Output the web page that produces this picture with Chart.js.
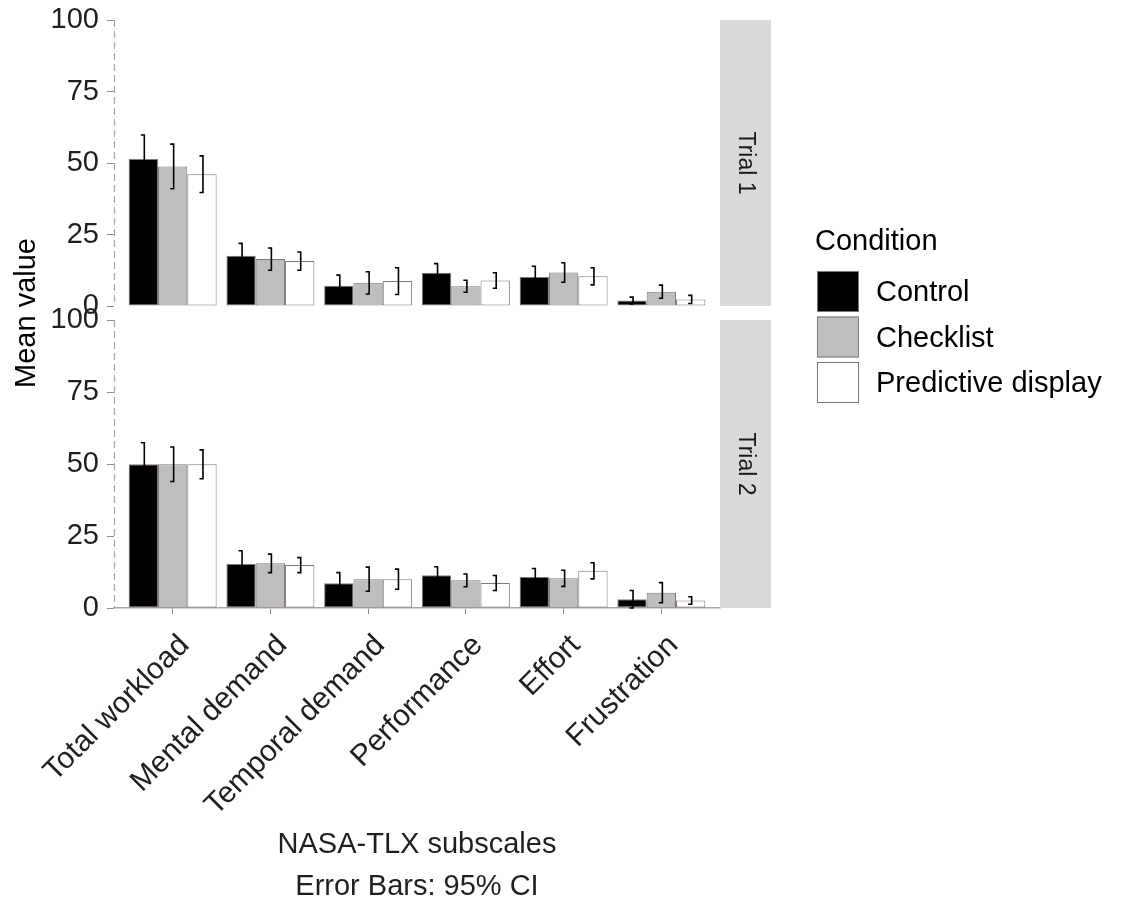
<!DOCTYPE html>
<html>
<head>
<meta charset="utf-8">
<script src="https://cdn.jsdelivr.net/npm/chart.js@4.4.1/dist/chart.umd.min.js"></script>
<style>
  body { margin: 0; background: #fff; }
  #wrap { position: relative; width: 1125px; height: 905px; }
  #wrap canvas { position: absolute; left: 0; top: 0; }
</style>
</head>
<body>
<div id="wrap">
  <canvas id="trial1" width="1125" height="905"></canvas>
  <canvas id="trial2" width="1125" height="905"></canvas>
</div>
<script>
const subscales = ['Total workload', 'Mental demand', 'Temporal demand', 'Performance', 'Effort', 'Frustration'];
const conditions = ['Control', 'Checklist', 'Predictive display'];
const trials = ['Trial 1', 'Trial 2'];
const yTicks = [0, 25, 50, 75, 100];

// Trial 1 means and 95% CI half widths
const t1Control = [51.4, 17.6, 7.1, 11.6, 10.1, 1.9];
const t1ControlCI = [8.4, 4.3, 3.7, 3.2, 3.8, 1.2];
const t1Checklist = [48.8, 16.4, 8.1, 6.9, 11.7, 5.0];
const t1ChecklistCI = [7.8, 3.9, 3.9, 2.1, 3.4, 2.3];
const t1Predictive = [46.1, 15.7, 8.7, 8.9, 10.4, 2.3];
const t1PredictiveCI = [6.4, 3.2, 4.7, 2.7, 3.0, 1.4];

// Trial 2
const t2Control = [49.9, 15.3, 8.6, 11.4, 10.8, 3.0];
const t2ControlCI = [7.5, 4.6, 3.7, 2.9, 2.9, 3.1];
const t2Checklist = [49.9, 15.5, 10.0, 9.6, 10.3, 5.3];
const t2ChecklistCI = [6.0, 3.2, 4.2, 2.2, 2.8, 3.5];
const t2Predictive = [49.9, 14.9, 10.0, 8.7, 12.9, 2.6];
const t2PredictiveCI = [5.0, 2.6, 3.5, 2.6, 2.8, 1.3];

const fills = ['#000000', '#BEBEBE', '#FFFFFF'];
const edge = '#847384';
const FONT = '"Liberation Sans", Arial, sans-serif';

function makeSets(vals, cis) {
    return vals.map(function (v, k) {
        return {
            label: conditions[k],
            data: v.map(function (y, i) { return { x: i, y: y }; }),
            ci: cis[k],
            backgroundColor: fills[k],
            borderColor: edge,
            borderWidth: 1,
            borderSkipped: false,
            categoryPercentage: 0.9,
            barPercentage: 1.0
        };
    });
}

/* dashed y axis line (border.dash only styles grid lines) */
const dashedAxis = {
    id: 'dashedAxis',
    beforeDatasetsDraw(chart) {
        const ctx = chart.ctx;
        const a = chart.chartArea;
        ctx.save();
        ctx.strokeStyle = '#A8A8A8';
        ctx.lineWidth = 1.2;
        ctx.setLineDash([7, 4]);
        ctx.beginPath();
        ctx.moveTo(a.left + 0.5, a.top);
        ctx.lineTo(a.left + 0.5, a.bottom);
        ctx.stroke();
        ctx.restore();
    }
};

/* error bars: vertical line with short caps */
const errorBars = {
    id: 'errorBars',
    afterDatasetsDraw(chart) {
        const ctx = chart.ctx;
        const ys = chart.scales.y;
        ctx.save();
        ctx.strokeStyle = '#000';
        ctx.lineWidth = 1.6;
        chart.data.datasets.forEach(function (ds, d) {
            chart.getDatasetMeta(d).data.forEach(function (bar, i) {
                const m = ds.data[i].y, c = ds.ci[i];
                const x = bar.x + 1;
                const top = ys.getPixelForValue(m + c);
                const bot = ys.getPixelForValue(Math.max(m - c, 0));
                ctx.beginPath();
                ctx.moveTo(x, top); ctx.lineTo(x, bot);
                ctx.moveTo(x - 3.5, top); ctx.lineTo(x + 0.8, top);
                ctx.moveTo(x - 3.5, bot); ctx.lineTo(x + 0.8, bot);
                ctx.stroke();
            });
        });
        ctx.restore();
    }
};

/* facet strip on the right of each panel */
const strip = {
    id: 'strip',
    afterDraw(chart, args, opts) {
        const ctx = chart.ctx;
        const a = chart.chartArea;
        ctx.save();
        ctx.fillStyle = '#D9D9D9';
        ctx.fillRect(720, a.top, 51, a.bottom - a.top);
        ctx.translate(745.5, (a.top + a.bottom) / 2);
        ctx.rotate(Math.PI / 2);
        ctx.fillStyle = '#1A1A1A';
        ctx.font = '23px ' + FONT;
        ctx.textAlign = 'center';
        ctx.textBaseline = 'middle';
        ctx.fillText(opts.text, 0, 0);
        ctx.restore();
    }
};

/* shared legend and y title, drawn once */
const sideText = {
    id: 'sideText',
    afterDraw(chart, args, opts) {
        if (!opts.show) return;
        const ctx = chart.ctx;
        ctx.save();
        ctx.fillStyle = '#000';
        ctx.font = '29px ' + FONT;
        ctx.textBaseline = 'middle';
        ctx.textAlign = 'left';
        ctx.fillText('Condition', 815, 242);
        chart.data.datasets.forEach(function (ds, k) {
            const y0 = 271 + k * 45.5;
            ctx.fillStyle = ds.backgroundColor;
            ctx.fillRect(817, y0, 42, 41);
            ctx.strokeStyle = edge;
            ctx.lineWidth = 1;
            ctx.strokeRect(817.5, y0 + 0.5, 41, 40);
            ctx.fillStyle = '#000';
            ctx.fillText(ds.label, 876, y0 + 22);
        });
        ctx.translate(27, 313);
        ctx.rotate(-Math.PI / 2);
        ctx.textAlign = 'center';
        ctx.fillText('Mean value', 0, 0);
        ctx.restore();
    }
};

function panel(canvasId, sets, stripText, isBottom) {
    return new Chart(document.getElementById(canvasId), {
        type: 'bar',
        data: { datasets: sets },
        plugins: [dashedAxis, errorBars, strip, sideText],
        options: {
            responsive: false,
            animation: false,
            devicePixelRatio: 1,
            layout: {
                padding: isBottom
                    ? { left: 0, top: 320, right: 405, bottom: 0 }
                    : { left: 0, top: 20, right: 405, bottom: 599 }
            },
            plugins: {
                legend: { display: false },
                tooltip: { enabled: false },
                strip: { text: stripText },
                sideText: { show: isBottom }
            },
            scales: {
                x: {
                    type: 'linear',
                    display: isBottom,
                    min: -0.6,
                    max: 5.6,
                    offset: false,
                    afterBuildTicks: function (s) {
                        s.ticks = subscales.map(function (n, i) { return { value: i }; });
                    },
                    afterFit: function (s) { if (isBottom) s.height = 297; },
                    grid: { display: true, drawOnChartArea: false, drawTicks: true, tickLength: 6, color: '#8C8C8C', offset: false },
                    border: { display: true, color: '#A6A6A6', width: 1.5 },
                    ticks: {
                        autoSkip: false,
                        minRotation: 45,
                        maxRotation: 45,
                        padding: 14,
                        labelOffset: 12,
                        color: '#1F1F1F',
                        font: { family: FONT, size: 30 },
                        callback: function (v) { return subscales[v]; }
                    },
                    title: {
                        display: true,
                        text: ['NASA-TLX subscales', 'Error Bars: 95% CI'],
                        color: '#1F1F1F',
                        font: { family: FONT, size: 29, lineHeight: 1.45 },
                        padding: { top: 0, bottom: -3 }
                    }
                },
                y: {
                    min: 0,
                    max: 100,
                    afterBuildTicks: function (s) {
                        s.ticks = yTicks.map(function (v) { return { value: v }; });
                    },
                    afterFit: function (s) { s.width = 114; },
                    grid: { display: true, drawOnChartArea: false, drawTicks: true, tickLength: 7, color: '#8C8C8C' },
                    border: { display: false },
                    ticks: {
                        padding: 8,
                        color: '#1F1F1F',
                        font: { family: FONT, size: 29, lineHeight: 0.8 }
                    }
                }
            }
        }
    });
}

panel('trial1', makeSets([t1Control, t1Checklist, t1Predictive], [t1ControlCI, t1ChecklistCI, t1PredictiveCI]), trials[0], false);
panel('trial2', makeSets([t2Control, t2Checklist, t2Predictive], [t2ControlCI, t2ChecklistCI, t2PredictiveCI]), trials[1], true);
</script>
</body>
</html>
